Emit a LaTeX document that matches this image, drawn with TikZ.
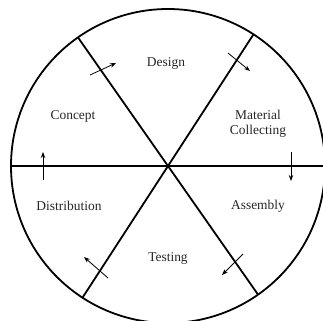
\documentclass[tikz,border=0pt]{standalone}
\usepackage{fontspec}
\setmainfont{Liberation Serif}
\usetikzlibrary{arrows.meta,calc}
\begin{document}
\begin{tikzpicture}[x=1bp,y=1bp,
  wheel/.style={line width=1.8bp,black},
  flow/.style={line width=0.8bp,-{Stealth[length=6bp,width=4.5bp]}},
  lbl/.style={font=\fontsize{13.5}{15}\selectfont,align=center,text=black!85}]
\useasboundingbox (0,0) rectangle (323,321);
\coordinate (c) at (168,155);
\draw[wheel] (c) circle (157);
\draw[wheel] ($(c)+(125:157)$) -- ($(c)+(305:157)$);
\draw[wheel] ($(c)+(57:157)$) -- ($(c)+(237:157)$);
\draw[wheel] ($(c)+(180:157)$) -- ($(c)+(0:157)$);
\node[lbl] (design) at (166,258) {Design};
\node[lbl] (concept) at (73,205) {Concept};
\node[lbl] (material) at (258,197) {Material\\Collecting};
\node[lbl] (distribution) at (69,115) {Distribution};
\node[lbl] (assembly) at (258,115) {Assembly};
\node[lbl] (testing) at (168,63) {Testing};
\coordinate (a1s) at (90,246); \coordinate (a1e) at (116,258);
\coordinate (a2s) at (228,268); \coordinate (a2e) at (250,250);
\coordinate (a3s) at (291,169); \coordinate (a3e) at (291,140);
\coordinate (a4s) at (243,67); \coordinate (a4e) at (222,46);
\coordinate (a5s) at (108,43); \coordinate (a5e) at (84,64);
\coordinate (a6s) at (43,141); \coordinate (a6e) at (43,169);
\draw[flow] (a1s) -- (a1e);
\draw[flow] (a2s) -- (a2e);
\draw[flow] (a3s) -- (a3e);
\draw[flow] (a4s) -- (a4e);
\draw[flow] (a5s) -- (a5e);
\draw[flow] (a6s) -- (a6e);
\end{tikzpicture}
\end{document}
